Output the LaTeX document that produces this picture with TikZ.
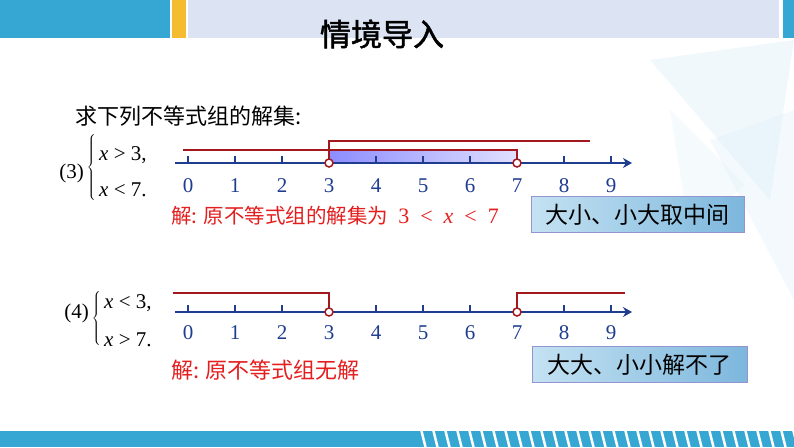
\documentclass[tikz,border=0pt]{standalone}
\usepackage{fontspec}
\setmainfont{Liberation Serif}
\newfontfamily\cjk{Noto Sans CJK SC}
\newfontfamily\cjktitle{Noto Sans CJK SC}[FakeBold=1.6]
\usetikzlibrary{arrows.meta}

\definecolor{barblue}{HTML}{35A7D2}
\definecolor{baryellow}{HTML}{F6BC2F}
\definecolor{barlav}{HTML}{DCE4F4}
\definecolor{axisblue}{HTML}{1F3D8F}
\definecolor{setred}{HTML}{A3181E}
\definecolor{ansred}{HTML}{E41E1E}
\definecolor{tagleft}{HTML}{C4E2F2}
\definecolor{tagright}{HTML}{7DB7DD}
\definecolor{facet}{HTML}{DDEFF7}

\begin{document}
\begin{tikzpicture}[
    x=1pt,y=-1pt,
    axis/.style={axisblue,line width=2pt,-{Stealth[length=9pt,width=10pt]}},
    tick/.style={axisblue,line width=1.3pt},
    numlab/.style={text=axisblue,font=\fontsize{21}{21}\selectfont,anchor=base},
    setline/.style={setred,line width=1.7pt},
    hole/.style={circle,draw=setred,fill=white,line width=1.5pt,inner sep=0pt,minimum size=8pt},
    ruletag/.style={draw=gray!60!blue!60,left color=tagleft,right color=tagright,
        font=\cjk\fontsize{23}{23}\selectfont,minimum height=36pt,inner sep=0pt},
    answer/.style={text=ansred,font=\cjk\fontsize{20.5}{20.5}\selectfont,anchor=west,inner sep=0pt},
    system/.style={font=\fontsize{21}{21}\selectfont,inner sep=0pt},
    brace/.style={inner sep=0pt}
]
\useasboundingbox (0,0) rectangle (794,447);

% faint background facets
\fill[facet,opacity=0.45] (650,60) -- (794,40) -- (770,200) -- cycle;
\fill[facet,opacity=0.35] (710,140) -- (794,110) -- (794,300) -- cycle;
\fill[facet,opacity=0.3] (670,110) -- (745,185) -- (690,235) -- cycle;

% title bar
\fill[barblue] (0,0) rectangle (170,38);
\fill[baryellow] (172,0) rectangle (186,38);
\fill[barlav] (188,0) rectangle (779,38);
\fill[barblue] (783,0) rectangle (794,38);
\node[font=\cjktitle\fontsize{31}{31}\selectfont] (title) at (382,34) {情境导入};

% bottom bar
\fill[barblue] (0,431) rectangle (794,447);
\foreach \s in {0,...,31}
    \draw[white,line width=2.5pt] ({421+12*\s},429) -- ++(5,20);

\node[font=\cjk\fontsize{22}{22}\selectfont,anchor=west,inner sep=0pt] (task) at (75,116) {求下列不等式组的解集:};

% system (3)
\node[system,anchor=east] (p3) at (84,173) {(3)};
\node[brace] (b3) at (92,168) {$\left\{\vrule height 31pt depth 31pt width 0pt\right.$};
\node[system,anchor=west] (s3a) at (99,155) {\textit{x} > 3,};
\node[system,anchor=west] (s3b) at (99,190) {\textit{x} < 7.};

\fill[left color=blue!45!white,right color=blue!12!white] (329,150) rectangle (517,163);
\coordinate (ax3s) at (175,163);
\coordinate (ax3e) at (632,163);
\draw[axis] (ax3s) -- (ax3e);
\foreach \i in {0,...,9} {
    \draw[tick] ({188+47*\i},163) -- ++(0,-7);
    \node[numlab] (n3-\i) at ({188+47*\i},192) {\i};
}
\node[hole] (h3a) at (329,163) {};
\node[hole] (h3b) at (517,163) {};
\coordinate (gt3end) at (590,141);
\coordinate (lt7start) at (183,150);
\draw[setline] (h3a.north) |- (gt3end);
\draw[setline] (lt7start) -| (h3b.north);

\node[answer] (ans3) at (171,216) {解: 原不等式组的解集为\enspace{\rmfamily\fontsize{22}{22}\selectfont 3\enspace<\enspace\textit{x}\enspace<\enspace7}};
\node[ruletag,minimum width=213pt] (tag3) at (637.5,214.5) {大小、小大取中间};

% system (4)
\node[system,anchor=east] (p4) at (89,313) {(4)};
\node[brace] (b4) at (97,319) {$\left\{\vrule height 26pt depth 26pt width 0pt\right.$};
\node[system,anchor=west] (s4a) at (104,303) {\textit{x} < 3,};
\node[system,anchor=west] (s4b) at (104,340) {\textit{x} > 7.};

\coordinate (ax4s) at (175,312);
\coordinate (ax4e) at (632,312);
\draw[axis] (ax4s) -- (ax4e);
\foreach \i in {0,...,9} {
    \draw[tick] ({188+47*\i},312) -- ++(0,-7);
    \node[numlab] (n4-\i) at ({188+47*\i},339) {\i};
}
\node[hole] (h4a) at (329,312) {};
\node[hole] (h4b) at (517,312) {};
\coordinate (lt3start) at (173,293);
\coordinate (gt7end) at (625,293);
\draw[setline] (lt3start) -| (h4a.north);
\draw[setline] (h4b.north) |- (gt7end);

\node[answer,font=\cjk\fontsize{22}{22}\selectfont] (ans4) at (171,370) {解: 原不等式组无解};
\node[ruletag,minimum width=215pt] (tag4) at (639.5,364.5) {大大、小小解不了};

\end{tikzpicture}
\end{document}
